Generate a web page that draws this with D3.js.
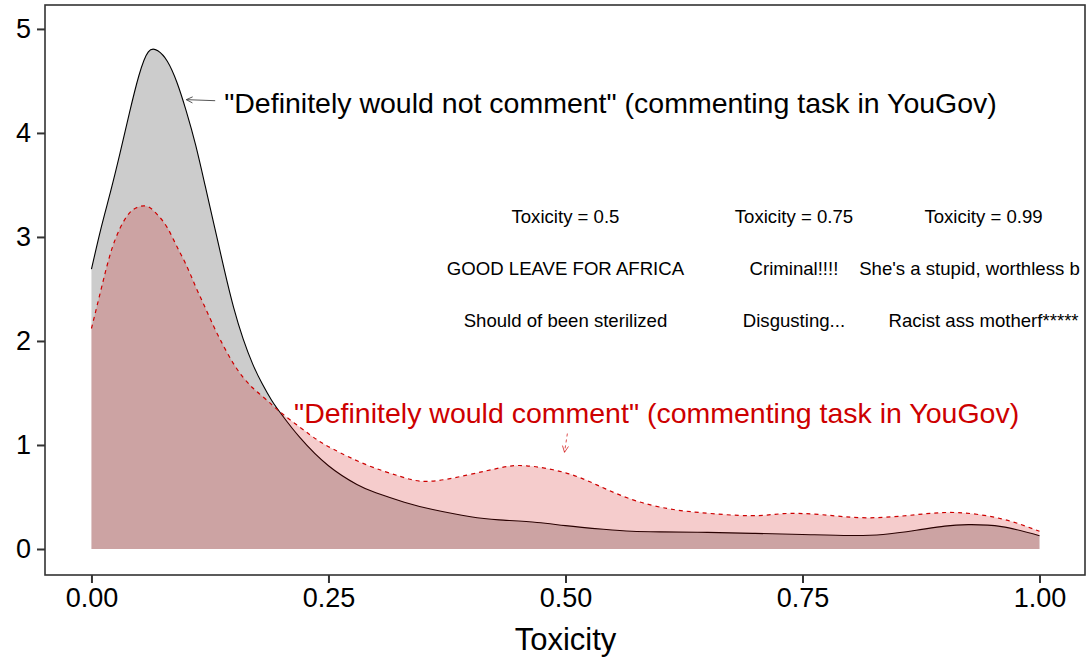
<!DOCTYPE html>
<html><head><meta charset="utf-8">
<script src="https://cdn.jsdelivr.net/npm/d3@7"></script>
<style>
html,body{margin:0;padding:0;background:#fff;}
svg{display:block;font-family:"Liberation Sans",Arial,Helvetica,sans-serif;}
</style></head>
<body>
<svg id="chart" width="1088" height="661"></svg>
<script>
// ---- data ----
const notCommentX = [0,0.01,0.02,0.03,0.04,0.05,0.06,0.07,0.08,0.09,0.10,0.11,0.12,0.13,0.14,0.15,0.16,0.17,0.18,0.19,0.20,0.22,0.25,0.28,0.30,0.33,0.36,0.40,0.43,0.47,0.50,0.54,0.57,0.60,0.65,0.70,0.75,0.80,0.835,0.87,0.90,0.925,0.96,1.0];
const notCommentY = [2.69,3.08,3.43,3.80,4.19,4.55,4.78,4.79,4.69,4.49,4.21,3.88,3.49,3.09,2.69,2.32,2.02,1.78,1.59,1.43,1.30,1.07,0.80,0.62,0.54,0.45,0.38,0.31,0.28,0.255,0.225,0.19,0.17,0.165,0.16,0.15,0.14,0.13,0.14,0.18,0.22,0.234,0.215,0.128];
const commentX = [0,0.01,0.02,0.03,0.04,0.05,0.06,0.07,0.08,0.09,0.10,0.11,0.12,0.13,0.14,0.15,0.16,0.17,0.18,0.19,0.20,0.22,0.238,0.255,0.29,0.325,0.355,0.396,0.431,0.459,0.501,0.537,0.572,0.607,0.642,0.695,0.73,0.77,0.818,0.87,0.913,0.96,1.0];
const commentY = [2.12,2.49,2.84,3.08,3.23,3.29,3.29,3.21,3.09,2.91,2.73,2.52,2.32,2.12,1.94,1.78,1.65,1.55,1.47,1.39,1.31,1.17,1.05,0.96,0.81,0.70,0.65,0.71,0.78,0.80,0.73,0.60,0.47,0.39,0.35,0.32,0.34,0.33,0.30,0.33,0.35,0.29,0.17];
const xTicks = [0, 0.25, 0.5, 0.75, 1.0];
const xTickLabels = ["0.00","0.25","0.50","0.75","1.00"];
const yTicks = [0,1,2,3,4,5];
const exampleHeader = ["Toxicity = 0.5","Toxicity = 0.75","Toxicity = 0.99"];
const exampleRow1 = ["GOOD LEAVE FOR AFRICA","Criminal!!!!","She's a stupid, worthless b"];
const exampleRow2 = ["Should of been sterilized","Disgusting...","Racist ass motherf*****"];
const labelNot = "\"Definitely would not comment\" (commenting task in YouGov)";
const labelYes = "\"Definitely would comment\" (commenting task in YouGov)";

// ---- layout ----
const svg = d3.select("#chart");
const L = 45, R = 1085, T = 5, B = 575;
const x = d3.scaleLinear().domain([-0.049, 1.048]).range([L, R]);
const y = d3.scaleLinear().domain([-0.25, 5.23]).range([B, T]);
const red = "#CD0000";

svg.append("defs").append("clipPath").attr("id","panel")
  .append("rect").attr("x",L).attr("y",T).attr("width",R-L).attr("height",B-T);

const g = svg.append("g").attr("clip-path","url(#panel)");

const ncData = notCommentX.map((v,i)=>[v, notCommentY[i]]);
const cData = commentX.map((v,i)=>[v, commentY[i]]);
const curve = d3.curveNatural;
const area = d3.area().x(d=>x(d[0])).y0(y(0)).y1(d=>y(d[1])).curve(curve);
const line = d3.line().x(d=>x(d[0])).y(d=>y(d[1])).curve(curve);

g.append("path").attr("d", area(ncData)).attr("fill","#000").attr("fill-opacity",0.2);
g.append("path").attr("d", line(ncData)).attr("fill","none").attr("stroke","#000").attr("stroke-width",1.1);
g.append("path").attr("d", area(cData)).attr("fill",red).attr("fill-opacity",0.2);
g.append("path").attr("d", line(cData)).attr("fill","none").attr("stroke",red).attr("stroke-width",1.2).attr("stroke-dasharray","4,4");

// example texts
const colX = [0.5, 0.741, 0.941];
const rowY = [3.2, 2.7, 2.2];
const exFont = 18.6;
[exampleHeader, exampleRow1, exampleRow2].forEach((row, r) => {
  row.forEach((t, c) => {
    const clipped = (r === 1 && c === 2);
    g.append("text")
      .attr("x", clipped ? x(0.8098) : x(colX[c]))
      .attr("y", y(rowY[r]))
      .attr("dy","0.35em")
      .attr("text-anchor", clipped ? "start" : "middle")
      .attr("font-size", exFont)
      .attr("fill","#000")
      .text(t);
  });
});

// annotations
g.append("text").attr("x", x(0.14)).attr("y", y(4.29)).attr("dy","0.35em")
  .attr("font-size",28.5).attr("fill","#000").text(labelNot);
g.append("text").attr("x", x(0.2137)).attr("y", y(1.31)).attr("dy","0.35em")
  .attr("font-size",28.5).attr("fill",red).text(labelYes);

function arrow(x1,y1,x2,y2,color,dash,op){
  const px1=x(x1), py1=y(y1), px2=x(x2), py2=y(y2);
  const ang = Math.atan2(py2-py1, px2-px1);
  const len = 7, spread = Math.PI/7;
  const a1 = [px2 - len*Math.cos(ang-spread), py2 - len*Math.sin(ang-spread)];
  const a2 = [px2 - len*Math.cos(ang+spread), py2 - len*Math.sin(ang+spread)];
  g.append("path").attr("d",`M${px1},${py1}L${px2},${py2}`)
    .attr("stroke",color).attr("stroke-width",1).attr("fill","none")
    .attr("stroke-dasharray",dash||null).attr("opacity",op);
  g.append("path").attr("d",`M${a1[0]},${a1[1]}L${px2},${py2}L${a2[0]},${a2[1]}`)
    .attr("stroke",color).attr("stroke-width",1).attr("fill","none").attr("opacity",op);
}
arrow(0.1305, 4.31, 0.1, 4.32, "#444", null, 0.9);
arrow(0.502, 1.11, 0.499, 0.93, red, "3,3", 0.7);

// panel border
svg.append("rect").attr("x",L).attr("y",T).attr("width",R-L).attr("height",B-T)
  .attr("fill","none").attr("stroke","#333").attr("stroke-width",1.6);

// axes
const xAxis = d3.axisBottom(x).tickValues(xTicks).tickFormat((d,i)=>xTickLabels[i]).tickSize(8).tickPadding(5);
const yAxis = d3.axisLeft(y).tickValues(yTicks).tickFormat(d3.format("d")).tickSize(8).tickPadding(6);
const gx = svg.append("g").attr("transform",`translate(0,${B})`).call(xAxis);
const gy = svg.append("g").attr("transform",`translate(${L},0)`).call(yAxis);
[gx,gy].forEach(a=>{
  a.select(".domain").remove();
  a.selectAll(".tick line").attr("stroke","#333").attr("stroke-width",2);
  a.selectAll(".tick text").attr("fill","#000").attr("font-size",27)
    .attr("font-family","'Liberation Sans',Arial,sans-serif");
});

svg.append("text").attr("x", x(0.5)).attr("y", 650).attr("text-anchor","middle")
  .attr("font-size",31).attr("fill","#000").text("Toxicity");
</script>
</body></html>
